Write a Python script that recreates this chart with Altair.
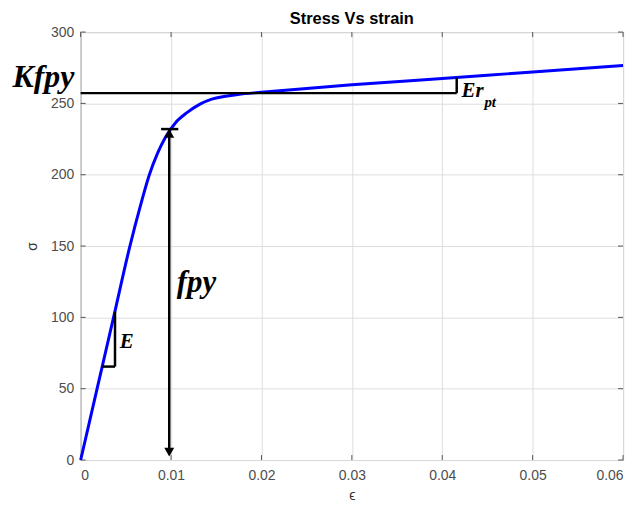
import altair as alt
import pandas as pd

# ---- data ----
strain = [0.0, 0.00182, 0.00364, 0.00545, 0.0066, 0.0076, 0.0085, 0.0094,
          0.0105, 0.0118, 0.0132, 0.0145, 0.0160, 0.0174, 0.0200, 0.0220,
          0.0300, 0.0400, 0.0500, 0.0600]
stress = [0.0, 50.0, 100.0, 150.0, 178.0, 200.0, 215.0, 226.5,
          236.5, 243.7, 249.5, 253.0, 255.0, 256.3, 257.8, 258.9,
          263.0, 267.5, 272.0, 276.5]

x_ticks = [0.0, 0.01, 0.02, 0.03, 0.04, 0.05, 0.06]
y_ticks = [0, 50, 100, 150, 200, 250, 300]

title_text = "Stress Vs strain"

# annotation segments (strain, stress) -> (strain2, stress2)
seg_x = [0.0, 0.0416, 0.0024, 0.0038, 0.0098, 0.0089]
seg_y = [257.2, 257.2, 65.5, 65.5, 232.0, 232.0]
seg_x2 = [0.0416, 0.0416, 0.0038, 0.0038, 0.0098, 0.0108]
seg_y2 = [257.2, 268.0, 65.5, 104.0, 4.0, 232.0]

# arrow heads
head_x = [0.0098, 0.0098]
head_y = [229.0, 5.5]
head_shape = ["triangle-up", "triangle-down"]

# annotation labels
lab_text = ["Kfpy", "fpy", "E", "Er", "pt"]
lab_x = [-0.00754, 0.01063, 0.00432, 0.04213, 0.04466]
lab_y = [261.6, 117.9, 78.6, 254.2, 247.2]
lab_size = [32, 31, 21, 21, 15]

W, H = 545, 430

xs = alt.Scale(domain=[0, 0.06], nice=False, zero=False)
ys = alt.Scale(domain=[0, 300], nice=False, zero=False)

curve_df = pd.DataFrame({"strain": strain, "stress": stress})
seg_df = pd.DataFrame({"x": seg_x, "y": seg_y, "x2": seg_x2, "y2": seg_y2})
head_df = pd.DataFrame({"x": head_x, "y": head_y, "shape": head_shape})
lab_df = pd.DataFrame({"t": lab_text, "x": lab_x, "y": lab_y, "s": lab_size})
xt_df = pd.DataFrame({"v": x_ticks})
yt_df = pd.DataFrame({"v": y_ticks})
title_df = pd.DataFrame({"t": [title_text]})

base_axes = alt.Chart(xt_df).mark_rule(opacity=0).encode(
    x=alt.X("v:Q", scale=xs,
            axis=alt.Axis(values=x_ticks, format="~g", title="ϵ", grid=True,
                          tickSize=0, labelPadding=9, titlePadding=6)),
)
y_axis_layer = alt.Chart(yt_df).mark_rule(opacity=0).encode(
    y=alt.Y("v:Q", scale=ys,
            axis=alt.Axis(values=y_ticks, title="σ", grid=True,
                          tickSize=0, labelPadding=7, titlePadding=11)),
)

curve = alt.Chart(curve_df).mark_line(color="#0000ff", strokeWidth=3,
                                      interpolate="monotone").encode(
    x=alt.X("strain:Q", scale=xs),
    y=alt.Y("stress:Q", scale=ys),
)

segs = alt.Chart(seg_df).mark_rule(color="black", strokeWidth=2.5).encode(
    x=alt.X("x:Q", scale=xs), x2="x2:Q",
    y=alt.Y("y:Q", scale=ys), y2="y2:Q",
)

heads = alt.Chart(head_df).mark_point(filled=True, color="black", opacity=1,
                                      size=100).encode(
    x=alt.X("x:Q", scale=xs),
    y=alt.Y("y:Q", scale=ys),
    shape=alt.Shape("shape:N", scale=None, legend=None),
)

labels = alt.Chart(lab_df).mark_text(
    font="Liberation Serif", fontStyle="italic", fontWeight="bold",
    align="left", baseline="alphabetic", color="black",
).encode(
    x=alt.X("x:Q", scale=xs),
    y=alt.Y("y:Q", scale=ys),
    text="t:N",
    size=alt.Size("s:Q", scale=None, legend=None),
)

title_mark = alt.Chart(title_df).mark_text(
    font="Liberation Sans", fontWeight="bold", fontSize=16.5, color="black",
    align="center", baseline="alphabetic",
).encode(x=alt.value(W / 2), y=alt.value(-8), text="t:N")

tick_col = "#555555"
xt_bottom = alt.Chart(xt_df).mark_rule(color=tick_col).encode(
    x=alt.X("v:Q", scale=xs), y=alt.value(H), y2=alt.value(H - 5))
xt_top = alt.Chart(xt_df).mark_rule(color=tick_col).encode(
    x=alt.X("v:Q", scale=xs), y=alt.value(0), y2=alt.value(5))
yt_left = alt.Chart(yt_df).mark_rule(color=tick_col).encode(
    y=alt.Y("v:Q", scale=ys), x=alt.value(0), x2=alt.value(5))
yt_right = alt.Chart(yt_df).mark_rule(color=tick_col).encode(
    y=alt.Y("v:Q", scale=ys), x=alt.value(W), x2=alt.value(W - 5))

chart = alt.layer(
    base_axes, y_axis_layer, xt_bottom, xt_top, yt_left, yt_right,
    curve, segs, heads, labels, title_mark,
).properties(
    width=W, height=H,
    autosize=alt.AutoSizeParams(type="none"),
    padding={"left": 73, "top": 23, "right": 10, "bottom": 44},
).configure_view(
    stroke="#666666", strokeWidth=1,
).configure_axis(
    domain=False,
    gridColor="#dedede", gridWidth=1,
    labelFont="Liberation Sans", labelFontSize=14, labelColor="#4d4d4d",
    titleFont="Liberation Sans", titleFontSize=14, titleColor="#333333",
    titleFontWeight="normal",
)

chart.save("out.html", embed_options={"renderer": "svg", "actions": False})
